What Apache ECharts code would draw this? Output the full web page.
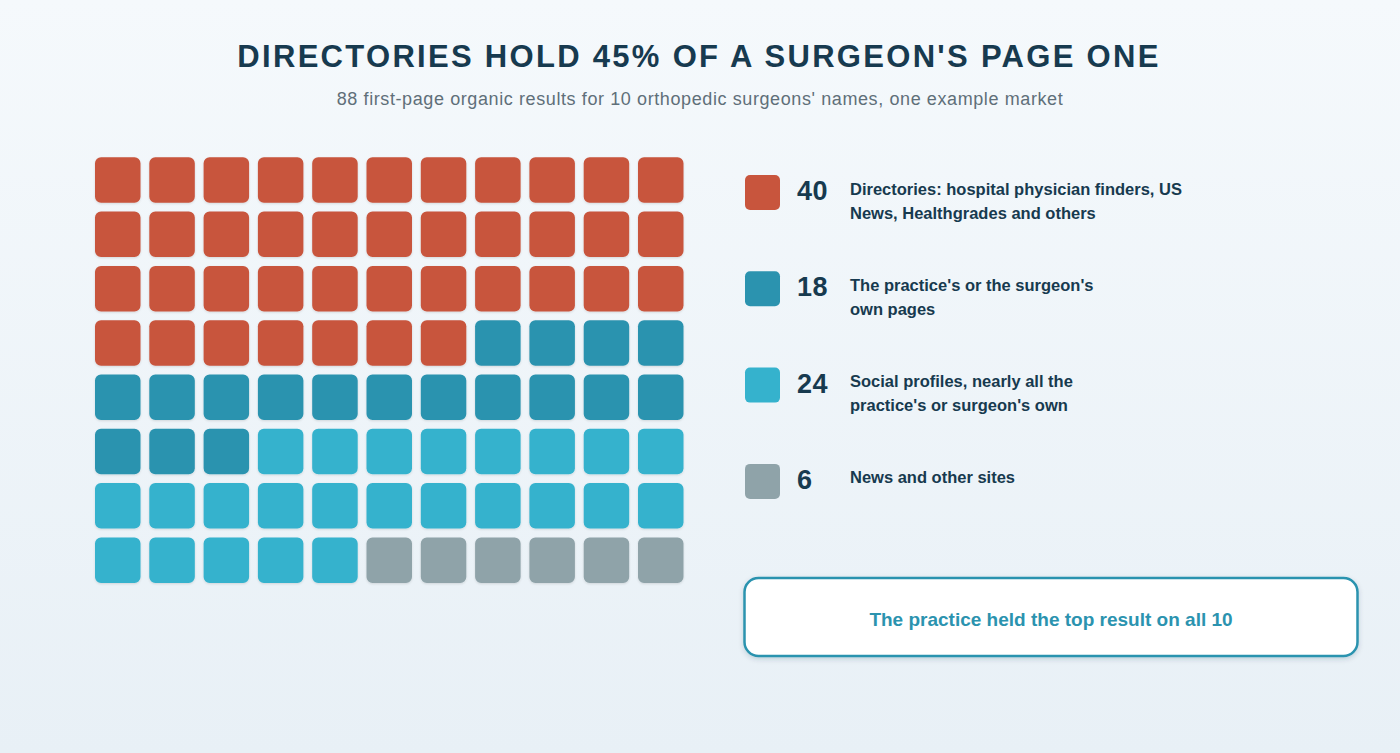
<!DOCTYPE html>
<html>
<head>
<meta charset="utf-8">
<script src="https://cdn.jsdelivr.net/npm/echarts@6/dist/echarts.min.js"></script>
<style>
html,body{margin:0;padding:0;width:1400px;height:753px;overflow:hidden;}
#main{width:1400px;height:753px;}
#main svg text[style*="31px"]{letter-spacing:2.3px !important;}
#main svg text[style*="18px"]{letter-spacing:0.6px !important;}
#main svg text[style*="27px"]{letter-spacing:0.5px !important;}
</style>
</head>
<body>
<div id="main"></div>
<script>
const title = "DIRECTORIES HOLD 45% OF A SURGEON'S PAGE ONE";
const subtitle = "88 first-page organic results for 10 orthopedic surgeons' names, one example market";
const categories = ["Directories", "Own pages", "Social profiles", "News and other"];
const counts = [40, 18, 24, 6];
const descriptions = [
  "Directories: hospital physician finders, US\nNews, Healthgrades and others",
  "The practice's or the surgeon's\nown pages",
  "Social profiles, nearly all the\npractice's or surgeon's own",
  "News and other sites"
];
const colors = ["#C8553D", "#2B93AF", "#35B2CD", "#8FA3A9"];
const callout = "The practice held the top result on all 10";
const nCols = 11;
const nRows = 8;

// build waffle cells from counts
const cells = [];
let idx = 0;
counts.forEach((c, k) => {
  for (let i = 0; i < c; i++) {
    cells.push([idx % nCols, Math.floor(idx / nCols), k]);
    idx++;
  }
});

const chart = echarts.init(document.getElementById('main'), null, { renderer: 'svg' });

const FF = '"Liberation Sans", Arial, Helvetica, sans-serif';
const textColor = "#173A4F";
const graphics = [];

graphics.push({
  type: 'text', x: 699, y: 56.5,
  style: { text: title, font: 'bold 31px ' + FF, fill: textColor, textAlign: 'center', textVerticalAlign: 'middle' }
});
graphics.push({
  type: 'text', x: 700, y: 99,
  style: { text: subtitle, font: 'normal 18px ' + FF, fill: '#5F6F79', textAlign: 'center', textVerticalAlign: 'middle' }
});

const legTop = 175, legStep = 96.3;
counts.forEach((c, k) => {
  const y = legTop + k * legStep;
  graphics.push({
    type: 'rect', x: 745, y: y,
    shape: { x: 0, y: 0, width: 35, height: 35, r: 5 },
    style: { fill: colors[k] }
  });
  graphics.push({
    type: 'text', x: 797, y: y + 16,
    style: { text: String(c), font: 'bold 27px ' + FF, fill: textColor, textAlign: 'left', textVerticalAlign: 'middle' }
  });
  graphics.push({
    type: 'text', x: 850, y: y + 1.5,
    style: { text: descriptions[k], font: 'bold 16.5px ' + FF, fill: textColor, lineHeight: 24, textAlign: 'left', textVerticalAlign: 'top' }
  });
});
graphics.push({
  type: 'rect', x: 744.5, y: 578,
  shape: { x: 0, y: 0, width: 613, height: 78, r: 14 },
  style: { fill: '#ffffff', stroke: '#2B93AF', lineWidth: 2.5, shadowBlur: 5, shadowOffsetY: 2, shadowColor: 'rgba(20,60,80,0.18)' }
});
graphics.push({
  type: 'text', x: 1051, y: 619,
  style: { text: callout, font: 'bold 19px ' + FF, fill: '#2B93AF', textAlign: 'center', textVerticalAlign: 'middle' }
});

const option = {
  backgroundColor: new echarts.graphic.LinearGradient(0, 0, 0, 1, [
    { offset: 0, color: '#F5F9FC' }, { offset: 1, color: '#E8F0F6' }
  ]),
  animation: false,
  grid: { left: 90.6, top: 152.9, width: 597.3, height: 434.4 },
  xAxis: { type: 'value', min: -0.5, max: nCols - 0.5, show: false },
  yAxis: { type: 'value', min: -0.5, max: nRows - 0.5, inverse: true, show: false },
  series: [{
    type: 'custom',
    data: cells,
    renderItem: function (params, api) {
      const p = api.coord([api.value(0), api.value(1)]);
      const s = api.size([1, 1]);
      const w = s[0] * 0.838, h = s[1] * 0.838;
      return {
        type: 'rect',
        shape: { x: p[0] - w / 2, y: p[1] - h / 2, width: w, height: h, r: 6 },
        style: { fill: colors[api.value(2)], shadowBlur: 2, shadowOffsetY: 1, shadowColor: 'rgba(0,0,0,0.12)' }
      };
    }
  }],
  graphic: graphics
};
chart.setOption(option);
</script>
</body>
</html>
